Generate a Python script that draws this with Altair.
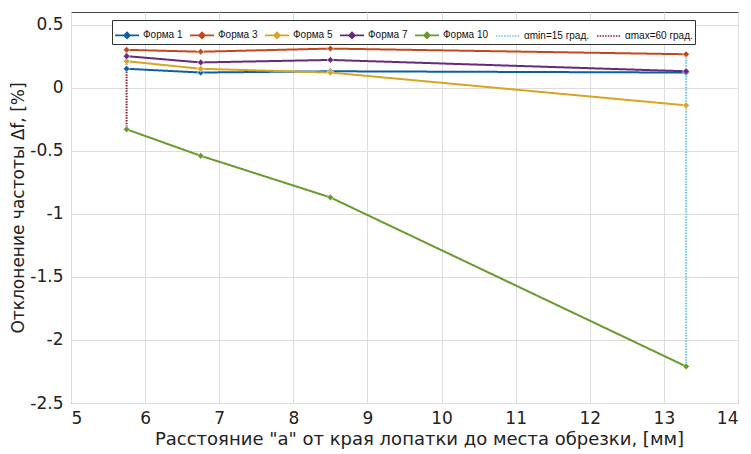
import altair as alt
import pandas as pd

x_vals = [5.75, 6.75, 8.5, 13.3]
forma1 = [0.15, 0.12, 0.13, 0.12]
forma3 = [0.30, 0.285, 0.31, 0.265]
forma5 = [0.21, 0.15, 0.12, -0.14]
forma7 = [0.25, 0.20, 0.22, 0.13]
forma10 = [-0.33, -0.54, -0.87, -2.21]

alpha_min_x = [13.3, 13.3]
alpha_min_y = [0.265, -2.21]
alpha_max_x = [5.75, 5.75]
alpha_max_y = [0.30, -0.33]

series_names = ["Форма 1", "Форма 3", "Форма 5", "Форма 7", "Форма 10",
                "αmin=15 град.", "αmax=60 град."]
colors = ["#0B5FA5", "#C4481A", "#D9A520", "#652A7C", "#6A9A2E", "#6EC3E8", "#8E1A30"]
dashes = [[1, 0], [1, 0], [1, 0], [1, 0], [1, 0], [1.5, 1.2], [1.5, 1.2]]
line_diamond = "M-1,0H1M0,-0.25L0.25,0L0,0.25L-0.25,0Z"
line_only = "M-1,0H1"
shapes = [line_diamond] * 5 + [line_only] * 2

rows = []
for name, ys in zip(series_names[:5], [forma1, forma3, forma5, forma7, forma10]):
    for i, (xv, yv) in enumerate(zip(x_vals, ys)):
        rows.append({"series": name, "x": xv, "y": yv, "ord": i})
forms_df = pd.DataFrame(rows)

arows = []
for name, xs, ys in [(series_names[5], alpha_min_x, alpha_min_y),
                     (series_names[6], alpha_max_x, alpha_max_y)]:
    for i, (xv, yv) in enumerate(zip(xs, ys)):
        arows.append({"series": name, "x": xv, "y": yv, "ord": i})
alpha_df = pd.DataFrame(arows)
all_df = pd.concat([forms_df, alpha_df], ignore_index=True)

color_scale = alt.Scale(domain=series_names, range=colors)
dash_scale = alt.Scale(domain=series_names, range=dashes)
shape_scale = alt.Scale(domain=series_names, range=shapes)

FONT = "DejaVu Sans"

legend = alt.Legend(
    title=None, orient="none", legendX=41, legendY=8, direction="horizontal",
    columns=7, strokeColor="#333333", fillColor="white", padding=2,
    labelFontSize=10, labelFont="Liberation Sans", labelColor="#111111",
    symbolSize=576, symbolStrokeWidth=1.6, columnPadding=3, labelOffset=3,
    labelLimit=200,
)

xax = alt.X("x:Q", scale=alt.Scale(domain=[5, 14], nice=False),
            axis=alt.Axis(title='Расстояние "а" от края лопатки до места обрезки, [мм]',
                          values=list(range(5, 15)), ticks=False, labelPadding=7,
                          labelExpr="toString(datum.value)", titlePadding=4,
                          titleFontSize=18, titleX=348, titleAlign="center"))
yax = alt.Y("y:Q", scale=alt.Scale(domain=[-2.5, 0.6], nice=False, zero=False),
            axis=alt.Axis(title="Отклонение частоты Δf, [%]",
                          values=[-2.5, -2, -1.5, -1, -0.5, 0, 0.5], ticks=False,
                          labelExpr="toString(datum.value)", labelPadding=8,
                          titlePadding=2))

lines = alt.Chart(all_df).mark_line(strokeWidth=2).encode(
    x=xax, y=yax,
    color=alt.Color("series:N", scale=color_scale, legend=legend),
    strokeDash=alt.StrokeDash("series:N", scale=dash_scale, legend=legend),
    order="ord:Q",
)
points = alt.Chart(forms_df).mark_point(filled=True, opacity=1, size=45, shape="diamond",
                                         stroke="white", strokeWidth=0.6).encode(
    x="x:Q", y="y:Q",
    color=alt.Color("series:N", scale=color_scale, legend=legend),
)
legend_dummy = alt.Chart(forms_df).mark_point(filled=True, size=0, opacity=1).encode(
    x="x:Q", y="y:Q",
    color=alt.Color("series:N", scale=color_scale, legend=legend),
    shape=alt.Shape("series:N", scale=shape_scale, legend=legend),
)

chart = alt.layer(lines, points, legend_dummy).properties(
    width=667, height=391,
    background="white",
    autosize=alt.AutoSizeParams(type="none"),
    padding={"left": 71, "top": 12, "right": 13, "bottom": 51},
).configure_view(stroke="#444444", strokeWidth=1).configure_axis(
    labelFont=FONT, titleFont=FONT,
    labelFontSize=17, titleFontSize=17, titleFontWeight="normal",
    labelColor="#222222", titleColor="#222222",
    gridColor="#dddddd", domain=False,
)

chart.save("out.html", embed_options={"renderer": "svg", "actions": False})
